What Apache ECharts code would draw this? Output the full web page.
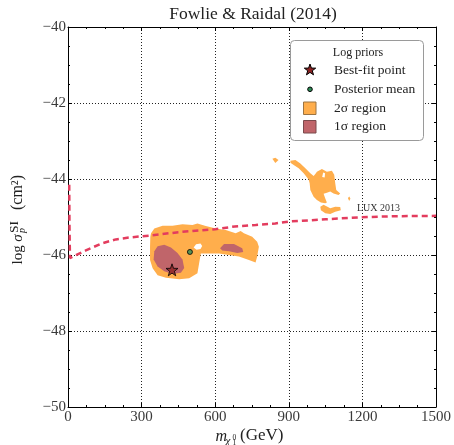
<!DOCTYPE html>
<html>
<head>
<meta charset="utf-8">
<script src="https://cdn.jsdelivr.net/npm/echarts@6/dist/echarts.min.js"></script>
<style>
  html, body { margin: 0; padding: 0; background: #fff; }
  #chart { width: 454px; height: 445px; }
</style>
</head>
<body>
<div id="chart"></div>
<script>
// tick labels
const xTicks = [0, 300, 600, 900, 1200, 1500];
const yTicks = [-50, -48, -46, -44, -42, -40];

// LUX 2013 limit (mass in GeV, log sigma)
const luxMass  = [5, 6, 8, 14, 75, 140, 195, 250, 330, 450, 520, 600, 680, 765, 845, 900, 1050, 1185, 1320, 1500];
const luxSigma = [-44.15, -45.2, -46.08, -46.04, -45.87, -45.69, -45.59, -45.54, -45.49, -45.40, -45.36, -45.32, -45.25, -45.21, -45.17, -45.12, -45.06, -45.01, -44.98, -44.97];

// points
const bestFit  = [424, -46.39];
const postMean = [497, -45.92];

// 2 sigma region (outlines)
const region2s = [
  [[338.5,-45.43],[351.9,-45.30],[385.6,-45.23],[426.1,-45.23],[466.7,-45.19],[507.3,-45.21],[527.6,-45.17],
   [561.7,-45.24],[602.3,-45.30],[642.9,-45.34],[683.4,-45.43],[703.7,-45.37],[717.1,-45.43],[750.8,-45.52],
   [771.1,-45.65],[778,-45.78],[771.1,-46.04],[764.6,-46.20],[737.4,-46.13],[696.8,-46.04],[656.2,-46.0],
   [615.7,-45.96],[588.5,-45.96],[541.4,-45.96],[534.5,-46.22],[527.6,-46.48],[493.9,-46.61],[453.3,-46.64],
   [399.4,-46.60],[365.3,-46.53],[345,-46.35],[334.4,-46.13],[334.4,-45.78],[335.6,-45.52]],
  [[906.7,-43.52],[927,-43.50],[947.2,-43.59],[967.5,-43.72],[987.8,-43.85],[1001.2,-43.92],[1008.1,-43.87],
   [1014.6,-43.81],[1034.9,-43.74],[1055.2,-43.81],[1075.5,-43.78],[1085.2,-43.89],[1089.3,-44.11],[1093.3,-44.29],
   [1109.6,-44.38],[1102.7,-44.42],[1082.4,-44.38],[1069,-44.33],[1055.2,-44.36],[1041.8,-44.39],[1048.7,-44.51],
   [1055.2,-44.62],[1048.7,-44.64],[1030.8,-44.62],[1014.6,-44.55],[1001.2,-44.47],[987.8,-44.29],[985,-44.11],
   [980.9,-44.01],[960.6,-43.85],[940.3,-43.72],[920,-43.63],[906.7,-43.57]],
  [[1028.4,-44.73],[1041.8,-44.68],[1069,-44.77],[1089.3,-44.73],[1109.6,-44.74],[1112,-44.82],[1089.3,-44.86],
   [1069,-44.92],[1048.7,-44.90],[1030.8,-44.82]],
  [[833,-43.47],[845,-43.44],[858,-43.5],[845,-43.58]],
  [[1141,-44.5],[1147,-44.46],[1151,-44.52],[1146,-44.58]]
];
// gaps inside the 2 sigma region
const holes2s = [
  [[512,-45.80],[522,-45.72],[540,-45.70],[547,-45.76],[540,-45.84],[524,-45.86]],
  [[1036,-43.95],[1040,-43.83],[1048,-43.85],[1046,-43.96]]
];
// 1 sigma region
const region1s = [
  [[351.9,-45.90],[365.3,-45.77],[392.4,-45.73],[419.6,-45.80],[446.4,-45.95],[466.7,-46.12],[473.6,-46.34],
   [460.2,-46.47],[426.1,-46.50],[392.4,-46.43],[365.3,-46.30],[349,-46.12]],
  [[619.7,-45.82],[636,-45.71],[676.6,-45.71],[710.2,-45.82],[714.3,-45.92],[690,-45.95],[656.2,-45.90],[629,-45.88]]
];

const SERIF = '"Liberation Serif", "DejaVu Serif", serif';
const ORANGE = '#ffae4c';
const RED1 = '#c0656a';
const LUXC = '#e33c5e';

const starPts = (cx, cy, R) => {
  let pts = [];
  for (let i = 0; i < 10; i++) {
    let a = -Math.PI / 2 + i * Math.PI / 5;
    let r = i % 2 ? R * 0.4 : R;
    pts.push([cx + r * Math.cos(a), cy + r * Math.sin(a)]);
  }
  return pts;
};
const starPath = 'path://M' + starPts(10, 10, 10).map(p => p[0].toFixed(2) + ',' + p[1].toFixed(2)).join('L') + 'Z';

const polySeries = (name, polys, color, z) => ({
  name: name,
  type: 'custom',
  coordinateSystem: 'cartesian2d',
  silent: true,
  clip: true,
  z: z,
  data: polys.map(p => p[0]),
  renderItem: (params, api) => ({
    type: 'polygon',
    shape: { points: polys[params.dataIndex].map(p => api.coord(p)) },
    style: { fill: color }
  })
});

const minus = v => (v < 0 ? '\u2212' + (-v) : String(v));

const txt = (text, x, y, size, opts = {}) => Object.assign({
  type: 'text', x: x, y: y, z: 101,
  style: {
    text: text, font: (opts.italic ? 'italic ' : '') + size + 'px ' + SERIF, fill: opts.color || '#222',
    align: opts.align || 'left', verticalAlign: 'middle',
    textAlign: opts.align || 'left', textVerticalAlign: 'middle'
  }
}, opts.extra || {});

let chart = echarts.init(document.getElementById('chart'));

const tickCommon = {
  axisLine: { show: true, onZero: false, lineStyle: { color: '#000', width: 1 } },
  axisTick: { show: true, inside: true, length: 4, lineStyle: { color: '#000' } },
  minorTick: { show: true, splitNumber: 4, length: 2, lineStyle: { color: '#000' } },
  minorSplitLine: { show: false }
};

chart.setOption({
  animation: false,
  grid: { left: 68, right: 16, top: 27, bottom: 38 },
  xAxis: [
    Object.assign({
      type: 'value', min: xTicks[0], max: xTicks[xTicks.length - 1], interval: 300, position: 'bottom',
      axisLabel: { fontSize: 15, fontFamily: SERIF, color: '#3a3a3a', margin: 3, formatter: minus, showMinLabel: true, showMaxLabel: true },
      splitLine: { show: true, lineStyle: { color: '#222', type: [1, 2], width: 1 } }
    }, tickCommon),
    Object.assign({
      type: 'value', min: xTicks[0], max: xTicks[xTicks.length - 1], interval: 300, position: 'top',
      axisLabel: { show: false }, splitLine: { show: false }
    }, tickCommon)
  ],
  yAxis: [
    Object.assign({
      type: 'value', min: yTicks[0], max: yTicks[yTicks.length - 1], interval: 2, position: 'left',
      axisLabel: { fontSize: 15, fontFamily: SERIF, color: '#3a3a3a', margin: 2, formatter: minus, showMinLabel: true, showMaxLabel: true },
      splitLine: { show: true, lineStyle: { color: '#222', type: [1, 2], width: 1 } }
    }, tickCommon),
    Object.assign({
      type: 'value', min: yTicks[0], max: yTicks[yTicks.length - 1], interval: 2, position: 'right',
      axisLabel: { show: false }, splitLine: { show: false }
    }, tickCommon)
  ],
  series: [
    polySeries('2σ region', region2s, ORANGE, 2),
    polySeries('holes', holes2s, '#fff', 3),
    polySeries('1σ region', region1s, RED1, 4),
    {
      name: 'LUX 2013', type: 'line', z: 5, silent: true, showSymbol: false,
      data: luxMass.map((m, i) => [m, luxSigma[i]]),
      lineStyle: { color: LUXC, width: 2.5, type: [6, 4] }
    },
    {
      name: 'Posterior mean', type: 'scatter', z: 6, silent: true,
      data: [postMean], symbol: 'circle', symbolSize: 5,
      itemStyle: { color: '#2e8b57', borderColor: '#000', borderWidth: 1 }
    },
    {
      name: 'Best-fit point', type: 'scatter', z: 7, silent: true,
      data: [bestFit], symbol: starPath, symbolSize: 12,
      itemStyle: { color: '#8b2323', borderColor: '#000', borderWidth: 1 }
    }
  ],
  graphic: [
    // title
    txt('Fowlie & Raidal (2014)', 253, 14, 17.5, { align: 'center' }),
    // LUX label
    txt('LUX 2013', 357, 208.7, 10, { color: '#333' }),
    // x axis name
    txt('m', 215.5, 436.3, 16, { italic: true }),
    txt('χ', 225.5, 440.8, 11, { italic: true }),
    txt('0', 232.5, 438, 7.5),
    txt('1', 232.5, 443.5, 7.5),
    txt('(GeV)', 240, 435.9, 17),
    // y axis name (rotated)
    {
      type: 'group', x: 23.5, y: 264.5, rotation: Math.PI / 2,
      children: [
        txt('log', 0, -5.1, 15),
        txt('σ', 22.8, -5.1, 15, { italic: true }),
        txt('SI', 31.5, -9.0, 13.5),
        txt('p', 31.5, -0.9, 10, { italic: true }),
        txt('(cm²)', 54.5, -5.4, 16)
      ]
    },
    // legend box
    {
      type: 'rect', z: 100,
      shape: { x: 290.5, y: 40.5, width: 133, height: 100, r: 4 },
      style: { fill: '#fff', stroke: '#9a9a9a', lineWidth: 1 }
    },
    txt('Log priors', 358, 53, 12, { align: 'center' }),
    {
      type: 'polygon', z: 101,
      shape: { points: starPts(310, 70, 6) },
      style: { fill: '#8b2323', stroke: '#000', lineWidth: 1 }
    },
    txt('Best-fit point', 334, 70, 13.5),
    {
      type: 'circle', z: 101,
      shape: { cx: 310, cy: 89.3, r: 2.3 },
      style: { fill: '#2e8b57', stroke: '#000', lineWidth: 1 }
    },
    txt('Posterior mean', 334, 89.3, 13.5),
    {
      type: 'rect', z: 101,
      shape: { x: 303.5, y: 102, width: 12.5, height: 12.5 },
      style: { fill: ORANGE, stroke: '#9c7442', lineWidth: 1 }
    },
    txt('2σ region', 334, 108.3, 13.5),
    {
      type: 'rect', z: 101,
      shape: { x: 303.5, y: 120.5, width: 12.5, height: 12.5 },
      style: { fill: RED1, stroke: '#7a4a4c', lineWidth: 1 }
    },
    txt('1σ region', 334, 126.7, 13.5)
  ]
});
</script>
</body>
</html>
